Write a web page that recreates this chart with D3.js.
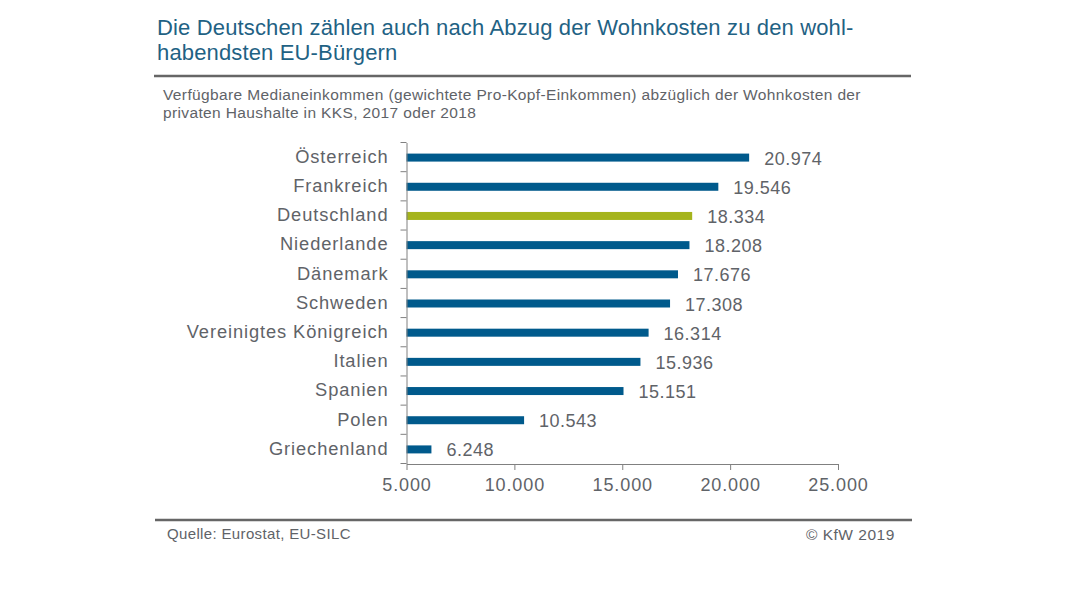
<!DOCTYPE html>
<html>
<head>
<meta charset="utf-8">
<script src="https://cdn.jsdelivr.net/npm/d3@7"></script>
<style>
body { margin: 0; background: #fff; }
text { font-family: "Liberation Sans", Arial, sans-serif; }
</style>
</head>
<body>
<svg width="1080" height="608"></svg>
<script>
// values
var countries = ["Österreich", "Frankreich", "Deutschland", "Niederlande", "Dänemark", "Schweden", "Vereinigtes Königreich", "Italien", "Spanien", "Polen", "Griechenland"];
var incomes = [20974, 19546, 18334, 18208, 17676, 17308, 16314, 15936, 15151, 10543, 6248];
var xTicks = [5000, 10000, 15000, 20000, 25000];
var titleLines = ["Die Deutschen zählen auch nach Abzug der Wohnkosten zu den wohl-", "habendsten EU-Bürgern"];
var subtitleLines = ["Verfügbare Medianeinkommen (gewichtete Pro-Kopf-Einkommen) abzüglich der Wohnkosten der", "privaten Haushalte in KKS, 2017 oder 2018"];
var source = "Quelle: Eurostat, EU-SILC";
var copyright = "© KfW 2019";

var blue = "#005a8c", green = "#a5b41c", grey = "#5f6368", axisGrey = "#808080";
var barShift = 2; // bars in the original stop a little short of the axis position

var svg = d3.select("svg");
var deFormat = function (v) { return d3.format(",")(v).replace(/,/g, "."); };

var xScale = d3.scaleLinear().domain([5000, 25000]).range([406.5, 838]);
var yScale = d3.scaleBand().domain(countries).range([143, 464]);

// title
svg.selectAll(".title").data(titleLines).enter().append("text")
    .attr("class", "title")
    .attr("x", 157).attr("y", function (d, i) { return 35 + i * 25; })
    .attr("font-size", 22).attr("letter-spacing", 0.15).attr("fill", "#1f6284")
    .text(function (d) { return d; });

svg.append("line").attr("x1", 154).attr("x2", 911).attr("y1", 76).attr("y2", 76)
    .attr("stroke", "#666").attr("stroke-width", 2.5);

svg.selectAll(".sub").data(subtitleLines).enter().append("text")
    .attr("class", "sub")
    .attr("x", 163).attr("y", function (d, i) { return 100 + i * 18; })
    .attr("font-size", 15.5).attr("letter-spacing", 0.37).attr("fill", grey)
    .text(function (d) { return d; });

// bars
svg.selectAll(".bar").data(countries).enter().append("rect")
    .attr("class", "bar")
    .attr("x", xScale(5000))
    .attr("y", function (d) { return yScale(d) + yScale.bandwidth() / 2 - 4; })
    .attr("width", function (d, i) { return xScale(incomes[i]) - xScale(5000) - barShift; })
    .attr("height", 8)
    .attr("fill", function (d) { return d == "Deutschland" ? green : blue; });

svg.selectAll(".val").data(countries).enter().append("text")
    .attr("class", "val")
    .attr("x", function (d, i) { return xScale(incomes[i]) - barShift + 15; })
    .attr("y", function (d) { return yScale(d) + yScale.bandwidth() / 2 + 7; })
    .attr("font-size", 18).attr("letter-spacing", 0.5).attr("fill", grey)
    .text(function (d, i) { return deFormat(incomes[i]); });

// axes
var xAxis = d3.axisBottom(xScale).tickValues(xTicks).tickFormat(deFormat).tickSize(6).tickPadding(8).tickSizeOuter(0);
var gx = svg.append("g").attr("transform", "translate(0,464)").call(xAxis);
gx.selectAll("line").attr("stroke", axisGrey);
gx.select(".domain").attr("stroke", axisGrey);
gx.selectAll("text").attr("font-size", 18).attr("letter-spacing", 0.9).attr("fill", grey)
    .style("font-family", '"Liberation Sans", Arial, sans-serif');

// d3 band axis has no ticks at the band edges, so the edge ticks are drawn from the band scale
var yAxis = d3.axisLeft(yScale).tickSize(0).tickPadding(18);
var gy = svg.append("g").attr("transform", "translate(406.5,-0.5)").call(yAxis);
gy.select(".domain").attr("stroke", axisGrey);
gy.selectAll("text").attr("font-size", 18.3).attr("letter-spacing", 0.9).attr("fill", grey)
    .style("font-family", '"Liberation Sans", Arial, sans-serif');
gy.selectAll(".edge").data(countries.concat(["end"])).enter().append("line")
    .attr("class", "edge")
    .attr("x1", -6).attr("x2", 0)
    .attr("y1", function (d, i) { return 143 + i * yScale.step(); })
    .attr("y2", function (d, i) { return 143 + i * yScale.step(); })
    .attr("stroke", axisGrey);

// footer
svg.append("line").attr("x1", 155).attr("x2", 912).attr("y1", 520).attr("y2", 520)
    .attr("stroke", "#666").attr("stroke-width", 2.5);
svg.append("text").attr("x", 167).attr("y", 539).attr("font-size", 15).attr("letter-spacing", 0.35).attr("fill", grey).text(source);
svg.append("text").attr("x", 806).attr("y", 540).attr("font-size", 15.5).attr("letter-spacing", 0.5).attr("fill", grey).text(copyright);
</script>
</body>
</html>
